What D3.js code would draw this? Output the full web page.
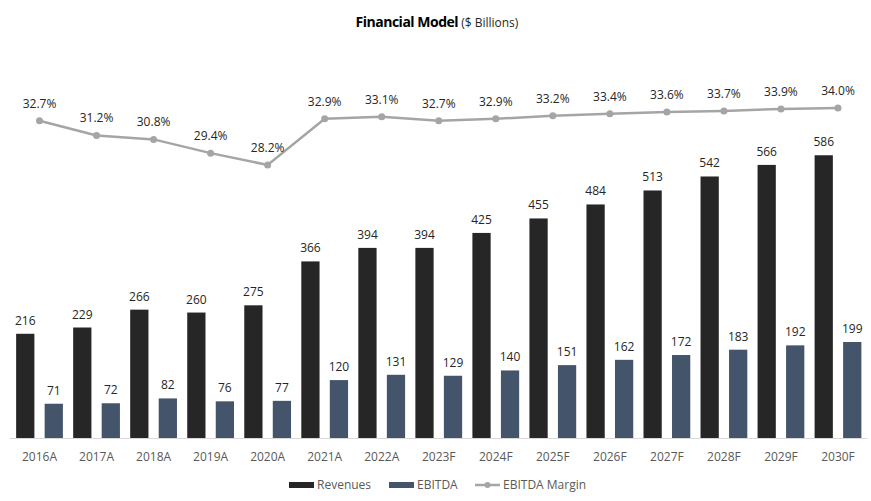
<!DOCTYPE html>
<html>
<head>
<meta charset="utf-8">
<script src="https://cdn.jsdelivr.net/npm/d3@7"></script>
<style>
  body { margin: 0; background: #fff; }
  text { font-family: "Open Sans", "Noto Sans", sans-serif; }
</style>
</head>
<body>
<div id="chart"></div>
<script>
// chart data
const years = ["2016A", "2017A", "2018A", "2019A", "2020A", "2021A", "2022A", "2023F", "2024F", "2025F", "2026F", "2027F", "2028F", "2029F", "2030F"];
const revenues = [216, 229, 266, 260, 275, 366, 394, 394, 425, 455, 484, 513, 542, 566, 586];
const ebitda = [71, 72, 82, 76, 77, 120, 131, 129, 140, 151, 162, 172, 183, 192, 199];
const margin = [32.7, 31.2, 30.8, 29.4, 28.2, 32.9, 33.1, 32.7, 32.9, 33.2, 33.4, 33.6, 33.7, 33.9, 34.0];

let width = 871,
  height = 501;

let colors = { rev: "#262626", ebitda: "#44546a", line: "#a5a5a5" };

let svg = d3
  .select("#chart")
  .append("svg")
  .attr("width", width)
  .attr("height", height);

// scales
let x = d3.scaleBand().domain(years).range([11, 866.5]);
let x1 = d3
  .scaleBand()
  .domain(["rev", "ebitda"])
  .range([0, x.bandwidth()])
  .paddingInner(0.36)
  .paddingOuter(0.18);
let y = d3.scaleLinear().domain([0, 800]).range([438, 52]);
let y2 = d3.scaleLinear().domain([0, 40]).range([442, 49]);

// title
let title = svg
  .append("text")
  .attr("x", 437)
  .attr("y", 27)
  .attr("text-anchor", "middle")
  .attr("fill", "#000");
title.append("tspan").attr("font-weight", "bold").attr("font-size", "14px").attr("letter-spacing", "-0.5px").text("Financial Model");
title.append("tspan").attr("font-size", "12px").attr("fill", "#262626").text(" ($ Billions)");

// x axis
svg
  .append("line")
  .attr("x1", 10)
  .attr("x2", 867)
  .attr("y1", y(0) + 0.5)
  .attr("y2", y(0) + 0.5)
  .attr("stroke", "#d9d9d9")
  .attr("stroke-width", 1);

svg
  .selectAll(".xlab")
  .data(years)
  .join("text")
  .attr("class", "xlab")
  .attr("x", (d) => x(d) + x.bandwidth() / 2)
  .attr("y", 461)
  .attr("text-anchor", "middle")
  .attr("font-size", "12px")
  .attr("fill", "#595959")
  .text((d) => d);

// bars
let groups = years.map((d, i) => ({ year: d, rev: revenues[i], ebitda: ebitda[i] }));

["rev", "ebitda"].forEach((key) => {
  svg
    .selectAll(".bar-" + key)
    .data(groups)
    .join("rect")
    .attr("class", "bar-" + key)
    .attr("x", (d) => x(d.year) + x1(key))
    .attr("width", x1.bandwidth())
    .attr("y", (d) => y(d[key]))
    .attr("height", (d) => y(0) - y(d[key]))
    .attr("fill", colors[key]);

  svg
    .selectAll(".lab-" + key)
    .data(groups)
    .join("text")
    .attr("class", "lab-" + key)
    .attr("x", (d) => x(d.year) + x1(key) + x1.bandwidth() / 2)
    .attr("y", (d) => y(d[key]) - 9)
    .attr("text-anchor", "middle")
    .attr("font-size", "12px")
    .attr("fill", "#262626")
    .text((d) => d[key]);
});

// margin line
let line = d3
  .line()
  .x((d, i) => x(years[i]) + x.bandwidth() / 2)
  .y((d) => y2(d));

svg
  .append("path")
  .datum(margin)
  .attr("d", line)
  .attr("fill", "none")
  .attr("stroke", colors.line)
  .attr("stroke-width", 2.5);

svg
  .selectAll(".dot")
  .data(margin)
  .join("circle")
  .attr("class", "dot")
  .attr("cx", (d, i) => x(years[i]) + x.bandwidth() / 2)
  .attr("cy", (d) => y2(d))
  .attr("r", 3.5)
  .attr("fill", colors.line);

svg
  .selectAll(".mlab")
  .data(margin)
  .join("text")
  .attr("class", "mlab")
  .attr("x", (d, i) => x(years[i]) + x.bandwidth() / 2)
  .attr("y", (d) => y2(d) - 13)
  .attr("text-anchor", "middle")
  .attr("font-size", "12px")
  .attr("fill", "#262626")
  .text((d) => d.toFixed(1) + "%");

// legend
let legend = svg.append("g").attr("transform", "translate(0,485)");
let items = [
  { name: "Revenues", type: "rect", color: colors.rev, x: 289 },
  { name: "EBITDA", type: "rect", color: colors.ebitda, x: 389 },
  { name: "EBITDA Margin", type: "line", color: colors.line, x: 475 },
];
items.forEach((it) => {
  if (it.type == "rect") {
    legend.append("rect").attr("x", it.x).attr("y", -3).attr("width", 25).attr("height", 6).attr("fill", it.color);
  } else {
    legend.append("line").attr("x1", it.x).attr("x2", it.x + 25).attr("y1", 0).attr("y2", 0).attr("stroke", it.color).attr("stroke-width", 2.5);
    legend.append("circle").attr("cx", it.x + 12.5).attr("cy", 0).attr("r", 3).attr("fill", it.color);
  }
  legend
    .append("text")
    .attr("x", it.x + 28)
    .attr("y", 0)
    .attr("dy", "0.35em")
    .attr("font-size", "12px")
    .attr("fill", "#595959")
    .text(it.name);
});
</script>
</body>
</html>
